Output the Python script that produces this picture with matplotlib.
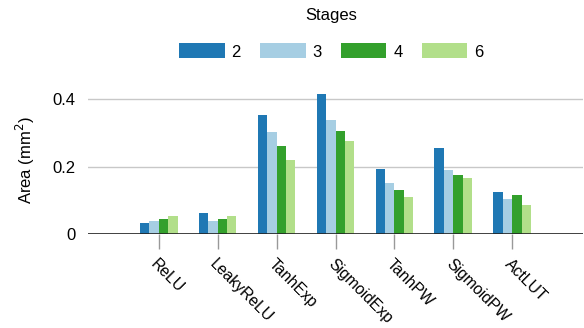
import matplotlib
matplotlib.use("Agg")
import matplotlib.pyplot as plt
import numpy as np

categories = ["ReLU", "LeakyReLU", "TanhExp", "SigmoidExp", "TanhPW", "SigmoidPW", "ActLUT"]
stages = ["2", "3", "4", "6"]
area_2 = [0.032, 0.063, 0.352, 0.416, 0.192, 0.255, 0.124]
area_3 = [0.038, 0.038, 0.302, 0.340, 0.151, 0.189, 0.104]
area_4 = [0.044, 0.044, 0.260, 0.305, 0.131, 0.174, 0.116]
area_6 = [0.054, 0.054, 0.220, 0.275, 0.111, 0.165, 0.085]

colors = ["#1f78b4", "#a6cee3", "#33a02c", "#b2df8a"]

plt.rcParams.update({'font.family': ['Liberation Sans', 'DejaVu Sans'], 'font.size': 12})

fig = plt.figure(figsize=(5.84, 3.28), dpi=100)
ax = fig.add_axes([88 / 584, 94 / 328, 495 / 584, 0.44 * 336.7 / 328])

x = np.arange(len(categories))
w = 0.16
series = [area_2, area_3, area_4, area_6]
for i, (vals, c, lab) in enumerate(zip(series, colors, stages)):
    ax.bar(x + (i - 1.5) * w, vals, width=w, color=c, label=lab, zorder=3)

ax.set_xlim(-1.2, 7.2)
ax.set_ylim(0, 0.44)
ax.set_yticks([0, 0.2, 0.4])
ax.set_yticklabels(["0", "0.2", "0.4"])
ax.set_xticks(x)
ax.set_xticklabels(categories, rotation=-45, ha="left", va="top",
                   rotation_mode="anchor", fontsize=11.3)

for s in ax.spines.values():
    s.set_visible(False)
ax.yaxis.grid(True, color="#c8c8c8", linewidth=1, zorder=0)
ax.axhline(0, color="#222222", linewidth=1.2, zorder=4)
ax.tick_params(axis="y", length=0, pad=9)
ax.tick_params(axis="x", length=11, width=1, color="#999999", pad=5)

ax.set_ylabel("Area (mm$^2$)", labelpad=11)

fig.legend(title="Stages", loc="upper center", bbox_to_anchor=(331 / 584, 1.0 + 5 / 328),
           ncol=4, frameon=False, handlelength=2.75, handleheight=1.0,
           handletextpad=0.4, columnspacing=1.15, fontsize=12, title_fontsize=12,
           borderpad=0.3, labelspacing=1.2)

fig.savefig("out.png", dpi=100)
